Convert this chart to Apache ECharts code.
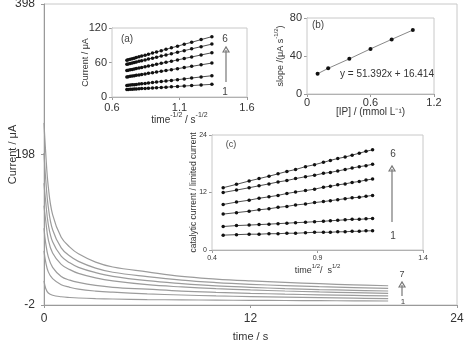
<!DOCTYPE html>
<html>
<head>
<meta charset="utf-8">
<script src="https://cdn.jsdelivr.net/npm/echarts@6/dist/echarts.min.js"></script>
<style>
  html, body { margin: 0; padding: 0; background: #fff; }
  #chart { width: 466px; height: 341px; }
</style>
</head>
<body>
<div id="chart"></div>
<script>
// main chronoamperograms, time in s, current in uA
const mainTime = [0, 0.1, 0.25, 0.5, 1, 1.5, 2, 3, 4, 6, 8, 10, 12, 14, 16, 18, 20];
const mainCurves = [
  [30, 20, 14, 11, 9, 8, 7.3, 6.5, 6, 5.2, 4.8, 4.5, 4.2, 4, 3.8, 3.5, 3.3],
  [70, 55, 42, 33, 25, 21.5, 19, 16.5, 15, 12.8, 11.3, 10.1, 9.2, 8.4, 7.7, 7.1, 6.5],
  [100, 80, 62, 48, 36, 31, 28, 24, 21.5, 19, 16.5, 14.8, 13.5, 12.4, 11.5, 10.7, 10],
  [130, 110, 85, 67, 52, 45, 40, 34, 30, 25, 22, 19.7, 18, 16.6, 15.4, 14.4, 13.5],
  [160, 135, 105, 82, 63, 54, 48, 41, 36, 30.3, 26.5, 23.5, 21.5, 19.8, 18.5, 17.5, 16.6],
  [200, 165, 128, 98, 74, 63, 56, 47, 41.5, 35.7, 31, 27.8, 25.5, 23.8, 22.3, 21.2, 20.2],
  [240, 200, 155, 118, 88, 75, 66, 55, 48.5, 42, 36, 32.5, 30, 28, 26.3, 24.8, 23.6]
];

// inset (a): current vs time^-1/2
const aX = [0.71, 0.72, 0.735, 0.75, 0.765, 0.78, 0.80, 0.82, 0.845, 0.87, 0.90, 0.93, 0.965, 1.00, 1.04, 1.085, 1.135, 1.19, 1.26, 1.34];
const aCurves = [
  [13, 13.1, 13.4, 13.6, 13.8, 14, 14.3, 14.6, 14.9, 15.3, 15.7, 16.1, 16.6, 17.1, 17.7, 18.4, 19.1, 19.9, 20.9, 22],
  [20, 20.3, 20.7, 21.1, 21.5, 21.9, 22.4, 23, 23.6, 24.3, 25.1, 25.9, 26.9, 27.8, 28.9, 30.1, 31.5, 33, 34.9, 37],
  [35, 35.4, 36, 36.5, 37.1, 37.7, 38.4, 39.2, 40.1, 41.1, 42.2, 43.4, 44.7, 46, 47.6, 49.3, 51.2, 53.3, 56, 59],
  [46, 46.5, 47.2, 48, 48.7, 49.4, 50.4, 51.4, 52.6, 53.9, 55.3, 56.8, 58.5, 60.3, 62.2, 64.5, 66.9, 69.6, 73.1, 77],
  [57, 57.6, 58.4, 59.2, 60.1, 60.9, 62, 63.1, 64.5, 65.9, 67.6, 69.2, 71.2, 73.1, 75.3, 77.8, 80.6, 83.7, 87.6, 92],
  [64, 64.7, 65.6, 66.6, 67.6, 68.6, 69.9, 71.2, 72.8, 74.4, 76.4, 78.3, 80.6, 82.9, 85.5, 88.4, 91.7, 95.2, 99.8, 105]
];

// inset (b): slope vs [IP]
const bX = [0.1, 0.2, 0.4, 0.6, 0.8, 1.0];
const bY = [21.3, 27, 37, 47.5, 57.5, 67.3];

// inset (c): catalytic / limited current vs time^1/2
const cX = [0.453, 0.516, 0.576, 0.623, 0.670, 0.713, 0.755, 0.796, 0.843, 0.886, 0.928, 0.961, 0.996, 1.031, 1.064, 1.098, 1.130, 1.161];
const cCurves = [
  [3.1, 3.2, 3.3, 3.3, 3.4, 3.4, 3.5, 3.5, 3.6, 3.7, 3.7, 3.7, 3.8, 3.8, 3.9, 3.9, 4.0, 4.0],
  [4.9, 5.1, 5.2, 5.3, 5.4, 5.5, 5.6, 5.7, 5.8, 5.9, 6.0, 6.1, 6.2, 6.3, 6.4, 6.4, 6.5, 6.6],
  [7.5, 7.8, 8.1, 8.4, 8.6, 8.9, 9.1, 9.4, 9.6, 9.9, 10.1, 10.3, 10.5, 10.7, 10.9, 11.0, 11.2, 11.4],
  [9.5, 10.0, 10.4, 10.8, 11.1, 11.4, 11.8, 12.1, 12.4, 12.7, 13.1, 13.3, 13.6, 13.8, 14.1, 14.3, 14.6, 14.8],
  [12.0, 12.5, 13.0, 13.4, 13.8, 14.2, 14.5, 14.9, 15.3, 15.6, 16.0, 16.2, 16.5, 16.8, 17.1, 17.4, 17.6, 17.9],
  [13.0, 13.7, 14.4, 14.9, 15.4, 15.9, 16.4, 16.8, 17.4, 17.8, 18.3, 18.7, 19.1, 19.4, 19.8, 20.2, 20.6, 20.9]
];

const FONT = 'Liberation Sans, Arial, sans-serif';
const axisGray = '#9a9a9a';
const txt = '#333';

function pairs(xs, ys) { return xs.map((x, i) => [x, ys[i]]); }

function axisBase(fs, margin) {
  return {
    nameMoveOverlap: false,
    axisLine: { show: true, onZero: false, lineStyle: { color: axisGray, width: 1 } },
    axisTick: { show: true, length: 3, lineStyle: { color: axisGray } },
    splitLine: { show: false },
    axisLabel: { color: txt, fontSize: fs, fontFamily: FONT, margin: margin || 5 },
    nameTextStyle: { color: txt, fontSize: fs, fontFamily: FONT }
  };
}

const supRich = (fs) => ({
  n: { fontSize: fs, fontFamily: FONT, color: txt, lineHeight: fs + 3, verticalAlign: 'bottom' },
  s: { fontSize: fs - 3, fontFamily: FONT, color: txt, lineHeight: fs + 3, verticalAlign: 'top' }
});

const series = [];
mainCurves.forEach((c) => {
  series.push({
    type: 'line', xAxisIndex: 0, yAxisIndex: 0, data: pairs(mainTime, c),
    showSymbol: false, smooth: 0.4, lineStyle: { color: '#9c9c9c', width: 1.2 }, silent: true
  });
});
aCurves.forEach((c) => {
  series.push({
    type: 'line', xAxisIndex: 1, yAxisIndex: 1, data: pairs(aX, c),
    symbol: 'circle', symbolSize: 3.5, itemStyle: { color: '#111' },
    lineStyle: { color: '#222', width: 0.8 }, z: 5
  });
});
series.push({
  type: 'line', xAxisIndex: 2, yAxisIndex: 2, data: pairs(bX, bY),
  symbol: 'circle', symbolSize: 4, itemStyle: { color: '#111' },
  lineStyle: { color: '#888', width: 1 }, z: 5
});
cCurves.forEach((c) => {
  series.push({
    type: 'line', xAxisIndex: 3, yAxisIndex: 3, data: pairs(cX, c),
    symbol: 'circle', symbolSize: 3.5, itemStyle: { color: '#111' },
    lineStyle: { color: '#222', width: 0.8 }, z: 5
  });
});

function arrow(x, yTop, yBot) {
  return [
    { type: 'line', shape: { x1: x, y1: yBot, x2: x, y2: yTop + 3 }, style: { stroke: '#777', lineWidth: 1.2 }, z: 10 },
    { type: 'polygon', shape: { points: [[x - 3, yTop + 5], [x, yTop], [x + 3, yTop + 5]] }, style: { fill: 'none', stroke: '#777', lineWidth: 1.2 }, z: 10 }
  ];
}
function label(text, x, y, fs) {
  return { type: 'text', x: x, y: y, style: { text: text, fill: '#444', font: fs + 'px ' + FONT, textAlign: 'center', textVerticalAlign: 'middle' }, z: 10 };
}

const gridBase = { show: true, borderColor: '#c8c8c8', borderWidth: 1, containLabel: false, outerBoundsMode: 'none' };

const chart = echarts.init(document.getElementById('chart'));
chart.setOption({
  animation: false,
  backgroundColor: '#fff',
  grid: [
    Object.assign({ left: 44, right: 9, top: 4, bottom: 36 }, gridBase),
    Object.assign({ left: 112, top: 28, width: 135, height: 69, backgroundColor: '#fff', z: 3 }, gridBase),
    Object.assign({ left: 307, top: 18, width: 127, height: 76, backgroundColor: '#fff', z: 3 }, gridBase),
    Object.assign({ left: 212, top: 135, width: 211, height: 115, backgroundColor: '#fff', z: 3 }, gridBase)
  ],
  xAxis: [
    Object.assign(axisBase(12, 8), { gridIndex: 0, type: 'value', min: 0, max: 24, interval: 12,
      name: 'time / s', nameLocation: 'middle', nameGap: 26,
      nameTextStyle: { color: txt, fontSize: 11, fontFamily: FONT } }),
    Object.assign(axisBase(11), { gridIndex: 1, type: 'value', min: 0.6, max: 1.6, interval: 0.5,
      name: '{n|time}{s|-1/2}{n| / s}{s|-1/2}', nameLocation: 'middle', nameGap: 15,
      nameTextStyle: { rich: supRich(10) } }),
    Object.assign(axisBase(11, 3), { gridIndex: 2, type: 'value', min: 0, max: 1.2, interval: 0.6,
      name: '[IP] / (mmol L\u207B\u00B9)', nameLocation: 'middle', nameGap: 13,
      nameTextStyle: { color: txt, fontSize: 10, fontFamily: FONT } }),
    Object.assign(axisBase(7), { gridIndex: 3, type: 'value', min: 0.4, max: 1.4, interval: 0.5,
      name: '{n|time}{s|1/2}{n|/  s}{s|1/2}', nameLocation: 'middle', nameGap: 13,
      nameTextStyle: { rich: supRich(9) } })
  ],
  yAxis: [
    Object.assign(axisBase(12, 9), { gridIndex: 0, type: 'value', min: -2, max: 398, interval: 200,
      name: 'Current / \u03BCA', nameLocation: 'middle', nameGap: 26,
      nameTextStyle: { color: txt, fontSize: 11, fontFamily: FONT } }),
    Object.assign(axisBase(11), { gridIndex: 1, type: 'value', min: 0, max: 120, interval: 60,
      name: 'Current / \u03BCA', nameLocation: 'middle', nameGap: 22,
      nameTextStyle: { color: txt, fontSize: 9, fontFamily: FONT } }),
    Object.assign(axisBase(11), { gridIndex: 2, type: 'value', min: 0, max: 80, interval: 40,
      name: '{n|slope /(\u03BCA s}{s|-1/2}{n|)}', nameLocation: 'middle', nameGap: 22,
      nameTextStyle: { rich: supRich(9) } }),
    Object.assign(axisBase(7), { gridIndex: 3, type: 'value', min: 0, max: 24, interval: 12,
      name: 'catalytic current / limited current', nameLocation: 'middle', nameGap: 14,
      nameTextStyle: { color: txt, fontSize: 8.5, fontFamily: FONT } })
  ],
  series: series,
  graphic: [
    label('(a)', 127, 39, 10),
    label('6', 225, 39, 10),
    label('1', 225, 92, 10),
    ...arrow(226, 47, 82),
    label('(b)', 318, 25, 10),
    { type: 'text', x: 387, y: 74, style: { text: 'y = 51.392x + 16.414', fill: '#333', font: '10px ' + FONT, textAlign: 'center', textVerticalAlign: 'middle' }, z: 10 },
    label('(c)', 231, 145, 9),
    label('6', 393, 154, 10),
    label('1', 393, 236, 10),
    ...arrow(392, 166, 222),
    label('7', 402, 275, 9),
    label('1', 403, 302, 8),
    ...arrow(402, 282, 296)
  ]
});
</script>
</body>
</html>
